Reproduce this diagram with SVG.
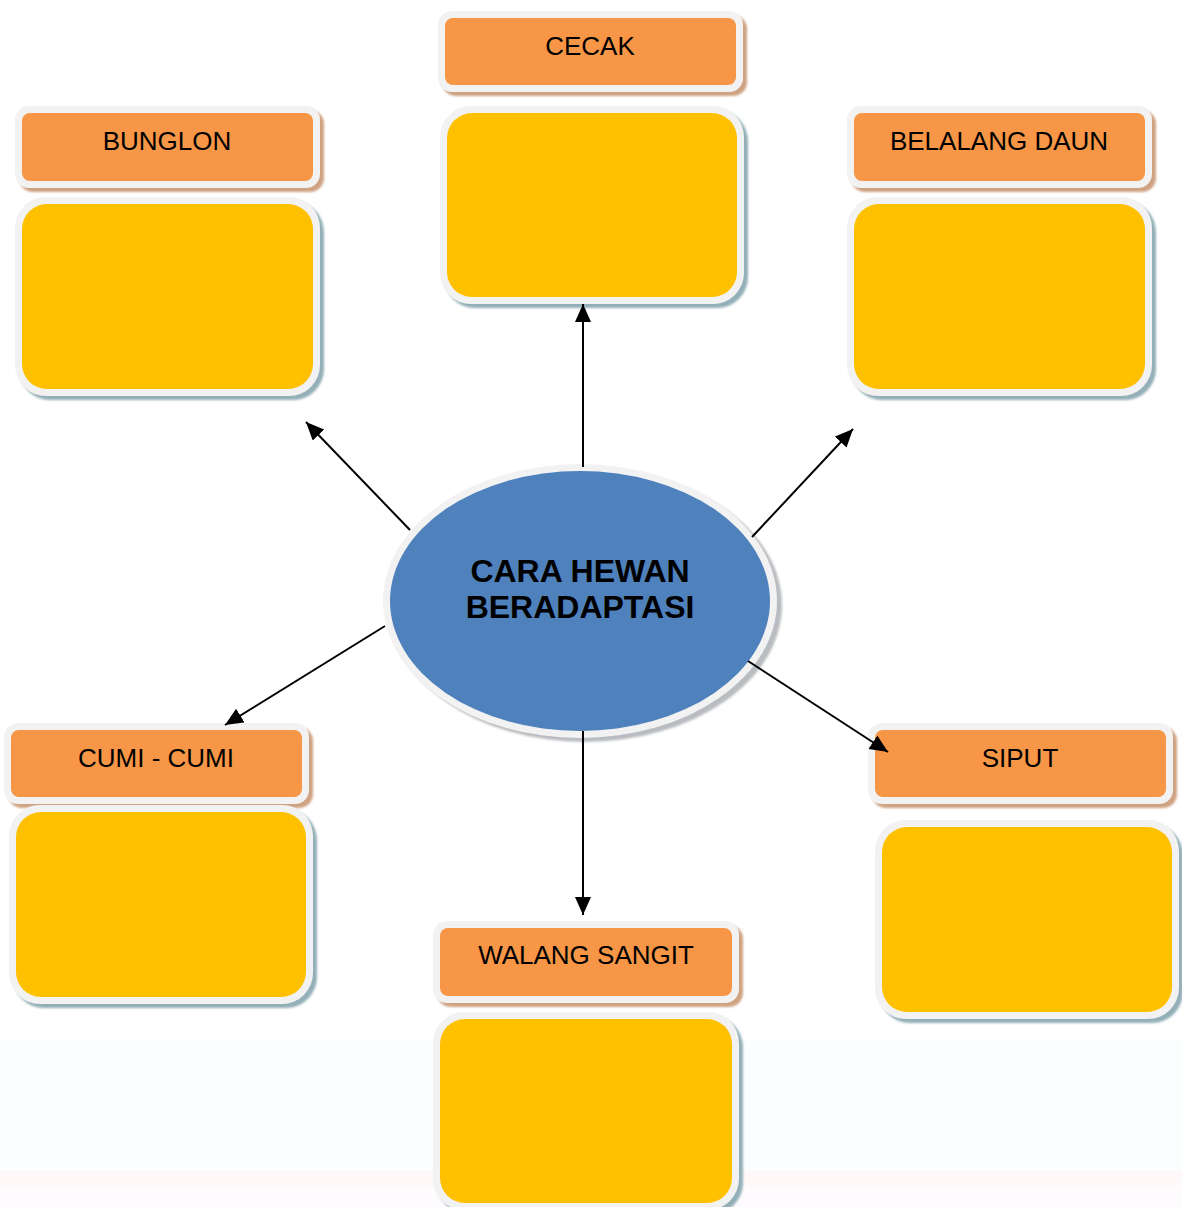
<svg xmlns="http://www.w3.org/2000/svg" width="1182" height="1207" viewBox="0 0 1182 1207">
<style>
.hs{fill:#CFA282}
.bs{fill:#93AFB7}
.rim{fill:#F2F2F2}
.hd{fill:#F79646}
.bd{fill:#FFC000}
.lbl{font-family:"Liberation Sans",Arial,sans-serif;font-size:26px;fill:#000;text-anchor:middle}
.ttl{font-family:"Liberation Sans",Arial,sans-serif;font-size:32px;font-weight:bold;fill:#000;text-anchor:middle}
.cn{stroke:#000;stroke-width:2;fill:none;marker-end:url(#ah)}
</style>
<defs>
<marker id="ah" markerUnits="userSpaceOnUse" markerWidth="20" markerHeight="18" refX="18" refY="8" orient="auto">
<path d="M0,0 L18,8 L0,16 Z" fill="#000"/>
</marker>
<filter id="sb" x="-10%" y="-10%" width="120%" height="120%"><feGaussianBlur stdDeviation="1.2"/></filter>
</defs>
<rect x="0" y="0" width="1182" height="1207" fill="#FFFFFF"/>
<rect x="0" y="1040" width="1182" height="130" fill="#FAFEFE"/>
<rect x="0" y="1170" width="1182" height="16" fill="#FEF8F8"/>
<rect x="0" y="1186" width="1182" height="21" fill="#FDFBFE"/>

<g id="center">
<ellipse cx="585" cy="605" rx="197" ry="137" fill="#B9BCC0" filter="url(#sb)"/>
<ellipse cx="580" cy="601" rx="197" ry="137" class="rim"/>
<ellipse cx="580" cy="601" rx="190" ry="130" fill="#4F81BD"/>
<text class="ttl" x="580" y="582">CARA HEWAN</text>
<text class="ttl" x="580" y="618">BERADAPTASI</text>
</g>

<g id="cecak">
<rect class="hs" x="442" y="15" width="305" height="81" rx="14" filter="url(#sb)"/>
<rect class="rim" x="438" y="11" width="305" height="81" rx="14"/>
<rect class="hd" x="445" y="18" width="291" height="67" rx="8"/>
<text class="lbl" x="590" y="55">CECAK</text>
<rect class="bs" x="444" y="110" width="304" height="198" rx="31" filter="url(#sb)"/>
<rect class="rim" x="440" y="106" width="304" height="198" rx="31"/>
<rect class="bd" x="447" y="113" width="290" height="184" rx="25"/>
</g>

<g id="bunglon">
<rect class="hs" x="19" y="110" width="305" height="82" rx="14" filter="url(#sb)"/>
<rect class="rim" x="15" y="106" width="305" height="82" rx="14"/>
<rect class="hd" x="22" y="113" width="291" height="68" rx="8"/>
<text class="lbl" x="167" y="150">BUNGLON</text>
<rect class="bs" x="19" y="201" width="305" height="199" rx="31" filter="url(#sb)"/>
<rect class="rim" x="15" y="197" width="305" height="199" rx="31"/>
<rect class="bd" x="22" y="204" width="291" height="185" rx="25"/>
</g>

<g id="belalang-daun">
<rect class="hs" x="851" y="110" width="305" height="82" rx="14" filter="url(#sb)"/>
<rect class="rim" x="847" y="106" width="305" height="82" rx="14"/>
<rect class="hd" x="854" y="113" width="291" height="68" rx="8"/>
<text class="lbl" x="999" y="150">BELALANG DAUN</text>
<rect class="bs" x="851" y="201" width="305" height="199" rx="31" filter="url(#sb)"/>
<rect class="rim" x="847" y="197" width="305" height="199" rx="31"/>
<rect class="bd" x="854" y="204" width="291" height="185" rx="25"/>
</g>

<g id="cumi-cumi">
<rect class="hs" x="8" y="727" width="305" height="81" rx="14" filter="url(#sb)"/>
<rect class="rim" x="4" y="723" width="305" height="81" rx="14"/>
<rect class="hd" x="11" y="730" width="291" height="67" rx="8"/>
<text class="lbl" x="156" y="767">CUMI - CUMI</text>
<rect class="bs" x="13" y="809" width="304" height="199" rx="31" filter="url(#sb)"/>
<rect class="rim" x="9" y="805" width="304" height="199" rx="31"/>
<rect class="bd" x="16" y="812" width="290" height="185" rx="25"/>
</g>

<g id="siput">
<rect class="hs" x="872" y="727" width="305" height="81" rx="14" filter="url(#sb)"/>
<rect class="rim" x="868" y="723" width="305" height="81" rx="14"/>
<rect class="hd" x="875" y="730" width="291" height="67" rx="8"/>
<text class="lbl" x="1020" y="767">SIPUT</text>
<rect class="bs" x="879" y="824" width="304" height="199" rx="31" filter="url(#sb)"/>
<rect class="rim" x="875" y="820" width="304" height="199" rx="31"/>
<rect class="bd" x="882" y="827" width="290" height="185" rx="25"/>
</g>

<g id="walang-sangit">
<rect class="hs" x="437" y="925" width="306" height="82" rx="14" filter="url(#sb)"/>
<rect class="rim" x="433" y="921" width="306" height="82" rx="14"/>
<rect class="hd" x="440" y="928" width="292" height="68" rx="8"/>
<text class="lbl" x="586" y="964">WALANG SANGIT</text>
<rect class="bs" x="437" y="1016" width="306" height="198" rx="31" filter="url(#sb)"/>
<rect class="rim" x="433" y="1012" width="306" height="198" rx="31"/>
<rect class="bd" x="440" y="1019" width="292" height="184" rx="25"/>
</g>

<g id="connectors">
<line class="cn" x1="583" y1="467" x2="583" y2="304"/>
<line class="cn" x1="410" y1="530" x2="306" y2="422"/>
<line class="cn" x1="752" y1="537" x2="853" y2="429"/>
<line class="cn" x1="385" y1="626" x2="225" y2="725"/>
<line class="cn" x1="748" y1="661" x2="888" y2="752"/>
<line class="cn" x1="583" y1="731" x2="583" y2="915"/>
</g>
</svg>
